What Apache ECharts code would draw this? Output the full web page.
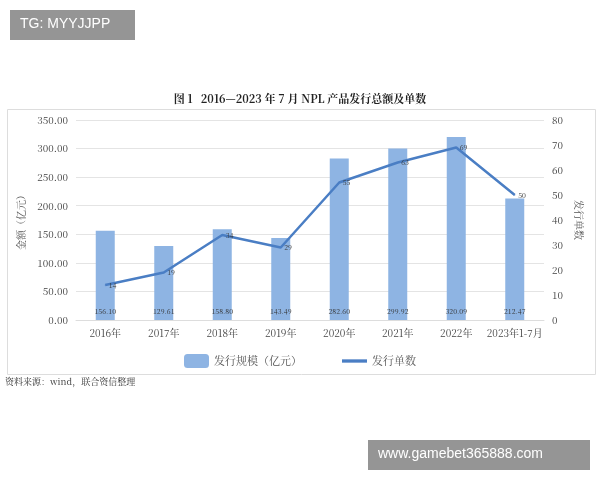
<!DOCTYPE html>
<html><head><meta charset="utf-8">
<script src="https://cdn.jsdelivr.net/npm/echarts@6/dist/echarts.min.js"></script>
<style>body{margin:0;background:#fff}#c{width:600px;height:480px}</style>
</head><body><div id="c"></div>
<script>
var categories = ['2016年','2017年','2018年','2019年','2020年','2021年','2022年','2023年1-7月'];
var amounts = [156.10,129.61,158.80,143.49,282.60,299.92,320.09,212.47];
var counts = [14,19,34,29,55,63,69,50];

var chart = echarts.init(document.getElementById('c'));
var serif = '"Noto Serif CJK SC","Liberation Serif","Noto Sans CJK SC",serif';
chart.setOption({
  animation:false,
  title:{text:'图 1   2016—2023 年 7 月 NPL 产品发行总额及单数',left:'center',top:88,
    textStyle:{fontSize:11,fontWeight:'bold',color:'#222',fontFamily:serif}},
  grid:{left:76,right:56,top:120,bottom:160},
  legend:{top:349,itemGap:40,textStyle:{fontSize:11,color:'#555',fontFamily:serif},
    data:[{name:'发行规模（亿元）'},{name:'发行单数',icon:'path://M0,0H30V4H0Z'}]},
  xAxis:{type:'category',data:categories,axisTick:{show:false},
    axisLine:{lineStyle:{color:'#ddd'}},
    axisLabel:{interval:0,color:'#444',fontSize:10,fontFamily:serif}},
  yAxis:[
    {type:'value',min:0,max:350,interval:50,name:'金额（亿元）',nameLocation:'middle',nameGap:48,
     nameTextStyle:{color:'#555',fontSize:10,fontFamily:serif},
     axisLabel:{color:'#444',fontSize:10,fontFamily:serif,formatter:function(v){return v.toFixed(2);}},
     splitLine:{lineStyle:{color:'#e4e4e4'}}},
    {type:'value',min:0,max:80,interval:10,name:'发行单数',nameLocation:'middle',nameGap:26,nameRotate:-90,
     nameTextStyle:{color:'#555',fontSize:10,fontFamily:serif},
     axisLabel:{color:'#444',fontSize:10,fontFamily:serif},splitLine:{show:false}}
  ],
  series:[
    {name:'发行规模（亿元）',type:'bar',data:amounts,barWidth:19,
     itemStyle:{color:'#8eb4e3'},
     label:{show:true,position:'insideBottom',fontSize:7,color:'#333',fontFamily:serif,formatter:function(p){return p.value.toFixed(2);}}},
    {name:'发行单数',type:'line',yAxisIndex:1,data:counts,symbol:'circle',symbolSize:1,
     lineStyle:{color:'#4a7ec4',width:2.5},itemStyle:{color:'#4a7ec4'},
     label:{show:true,position:'right',distance:3,fontSize:7,color:'#333',fontFamily:serif}}
  ],
  graphic:[
    {type:'rect',left:5,top:107,shape:{width:588,height:265},style:{fill:'none',stroke:'#ddd',lineWidth:1}},
    {type:'text',left:5,top:377,style:{text:'资料来源：wind，联合资信整理',fontSize:9,fill:'#333',fontFamily:serif}},
    {type:'rect',left:10,top:10,shape:{width:125,height:30},style:{fill:'rgba(130,130,130,0.85)'}},
    {type:'text',left:20,top:17,style:{text:'TG: MYYJJPP',fontSize:14,fill:'#fff'}},
    {type:'rect',left:368,top:440,shape:{width:222,height:30},style:{fill:'rgba(130,130,130,0.85)'}},
    {type:'text',left:378,top:447,style:{text:'www.gamebet365888.com',fontSize:14,fill:'#fff'}}
  ]
});
</script></body></html>
